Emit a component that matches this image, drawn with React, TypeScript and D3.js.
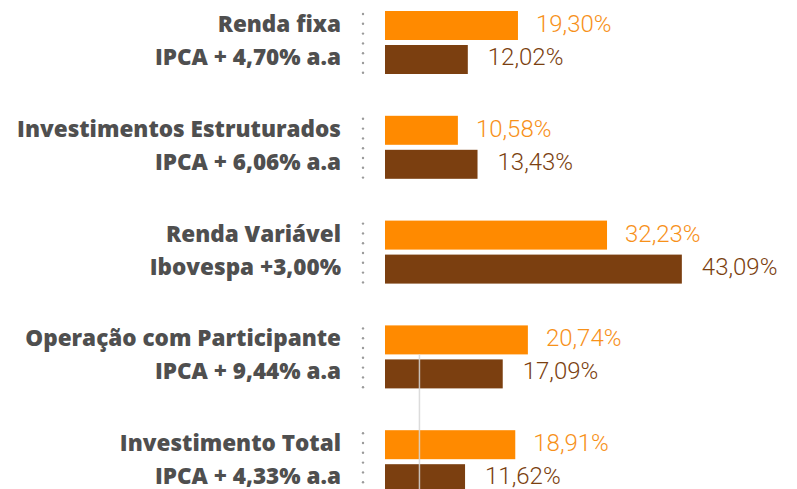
import React from "react";
import * as d3 from "d3";

const categories = [
  "Renda fixa",
  "Investimentos Estruturados",
  "Renda Variável",
  "Operação com Participante",
  "Investimento Total",
];
const benchmarks = [
  "IPCA + 4,70% a.a",
  "IPCA + 6,06% a.a",
  "Ibovespa +3,00%",
  "IPCA + 9,44% a.a",
  "IPCA + 4,33% a.a",
];
const returns = [19.3, 10.58, 32.23, 20.74, 18.91];
const benchmarkValues = [12.02, 13.43, 43.09, 17.09, 11.62];
const refValue = 5;

const W = 797;
const H = 489;
const ORANGE = "#FF8A00";
const BROWN = "#7B3F10";
const fmt = (v: number) => v.toFixed(2).replace(".", ",") + "%";

export default function App() {
  const x = d3.scaleLinear().domain([0, 45]).range([385, 695]);
  const y = d3
    .scaleBand<string>()
    .domain(categories)
    .range([11, 11 + 104.8 * categories.length])
    .paddingInner(0)
    .paddingOuter(0);
  const barH = 29;
  const gap = 5;
  const dotX = 363;

  return (
    <svg
      width={W}
      height={H}
      style={{ position: "fixed", left: 0, top: 0, background: "#fff" }}
    >
      {categories.map((c, i) => {
        const y0 = y(c)!;
        const y1 = y0 + barH + gap;
        const dots = d3.range(y0 + 3, y1 + barH, 9.8);
        return (
          <g key={c}>
            {dots.map((d, k) => (
              <circle key={k} cx={dotX} cy={d} r={1.2} fill="#9a9a9a" />
            ))}
            <rect x={x(0)} y={y0} width={x(returns[i]) - x(0)} height={barH} fill={ORANGE} />
            <rect x={x(0)} y={y1} width={x(benchmarkValues[i]) - x(0)} height={barH} fill={BROWN} />
            <text
              x={341}
              y={y0 + 21}
              textAnchor="end"
              fontFamily="'Open Sans', sans-serif"
              fontWeight={800}
              fontSize={22.5}
              fill="#4f4f4f"
            >
              {c}
            </text>
            <text
              x={341}
              y={y1 + 20}
              textAnchor="end"
              fontFamily="'Open Sans', sans-serif"
              fontWeight={800}
              fontSize={22.5}
              fill="#4f4f4f"
            >
              {benchmarks[i]}
            </text>
            <text
              x={x(returns[i]) + 18}
              y={y0 + 21}
              fontFamily="Roboto, sans-serif"
              fontWeight={300}
              fontSize={24}
              fill="#F7911A"
            >
              {fmt(returns[i])}
            </text>
            <text
              x={x(benchmarkValues[i]) + 20}
              y={y1 + 20}
              fontFamily="Roboto, sans-serif"
              fontWeight={300}
              fontSize={24}
              fill={BROWN}
            >
              {fmt(benchmarkValues[i])}
            </text>
          </g>
        );
      })}
      <line
        x1={x(refValue)}
        x2={x(refValue)}
        y1={y(categories[3])! + barH}
        y2={H}
        stroke="#d6d6d6"
        strokeOpacity={0.85}
        strokeWidth={1.5}
      />
    </svg>
  );
}
